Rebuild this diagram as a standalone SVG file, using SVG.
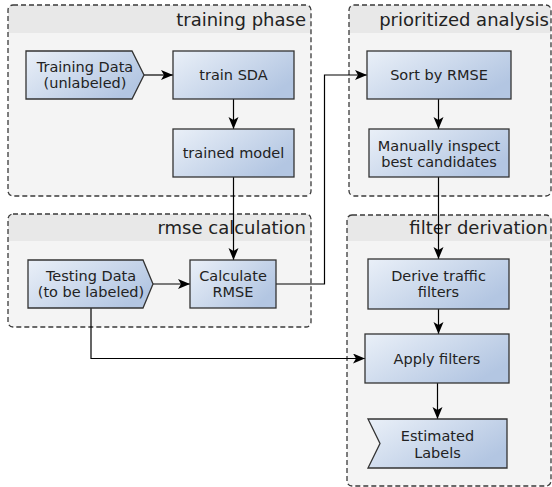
<svg xmlns="http://www.w3.org/2000/svg" width="552" height="487" viewBox="0 0 552 487">
<defs>
<linearGradient id="g" x1="0" y1="0" x2="1" y2="0.6">
<stop offset="0" stop-color="#eaf0f8"/>
<stop offset="1" stop-color="#b3c6e2"/>
</linearGradient>
<marker id="ah" markerUnits="userSpaceOnUse" markerWidth="13" markerHeight="11" refX="12" refY="5" orient="auto" viewBox="0 0 13 11">
<path d="M0,0 L12,5 L0,10 L3,5 z" fill="#000"/>
</marker>
</defs>
<style>
.cb{fill:#f4f4f4;stroke:none}
.ch{fill:#e8e8e8;stroke:none}
.co{fill:none;stroke:#3a3a3a;stroke-width:1.3;stroke-dasharray:5,3}
.ct{font-family:"DejaVu Sans",sans-serif;font-size:18px;fill:#222;text-anchor:end}
.n{fill:url(#g);stroke:#333;stroke-width:1.3}
.t{font-family:"DejaVu Sans",sans-serif;font-size:14.5px;fill:#222;text-anchor:middle}
.e{fill:none;stroke:#000;stroke-width:1.2;marker-end:url(#ah)}
</style>

<g id="cluster-training">
<rect class="cb" x="8" y="5" width="303" height="191" rx="5"/>
<path class="ch" d="M8,33 V10 a5,5 0 0 1 5,-5 H306 a5,5 0 0 1 5,5 V33 z"/>
<rect class="co" x="8" y="5" width="303" height="191" rx="5"/>
<text class="ct" x="306" y="26">training phase</text>
</g>
<g id="cluster-prioritized">
<rect class="cb" x="349" y="5" width="202" height="191" rx="5"/>
<path class="ch" d="M349,33 V10 a5,5 0 0 1 5,-5 H546 a5,5 0 0 1 5,5 V33 z"/>
<rect class="co" x="349" y="5" width="202" height="191" rx="5"/>
<text class="ct" x="549" y="26">prioritized analysis</text>
</g>
<g id="cluster-rmse">
<rect class="cb" x="8" y="214" width="303" height="113" rx="5"/>
<path class="ch" d="M8,241 V219 a5,5 0 0 1 5,-5 H306 a5,5 0 0 1 5,5 V241 z"/>
<rect class="co" x="8" y="214" width="303" height="113" rx="5"/>
<text class="ct" x="306" y="234">rmse calculation</text>
</g>
<g id="cluster-filter">
<rect class="cb" x="347" y="215" width="204" height="271" rx="5"/>
<path class="ch" d="M347,241 V220 a5,5 0 0 1 5,-5 H546 a5,5 0 0 1 5,5 V241 z"/>
<rect class="co" x="347" y="215" width="204" height="271" rx="5"/>
<text class="ct" x="548" y="234">filter derivation</text>
</g>

<g id="connectors">
<path class="e" d="M144,75 H173"/>
<path class="e" d="M233.5,99 V129"/>
<path class="e" d="M233.5,177 V260"/>
<path class="e" d="M153,284 H190"/>
<path class="e" d="M276,284 H324.5 V75 H367"/>
<path class="e" d="M438.5,99 V129"/>
<path class="e" d="M438.5,177 V259"/>
<path class="e" d="M438.5,309 V334"/>
<path class="e" d="M91,308 V358.5 H365"/>
<path class="e" d="M437.5,383 V419"/>
</g>

<g id="node-training-data">
<polygon class="n" points="26,51 132,51 144,75 132,99 26,99"/>
<text class="t" x="85" y="72">Training Data</text>
<text class="t" x="85" y="88">(unlabeled)</text>
</g>
<g id="node-train-sda">
<rect class="n" x="173" y="51" width="121" height="48"/>
<text class="t" x="233.5" y="80">train SDA</text>
</g>
<g id="node-trained-model">
<rect class="n" x="173" y="129" width="121" height="48"/>
<text class="t" x="233.5" y="158">trained model</text>
</g>
<g id="node-testing-data">
<polygon class="n" points="28,260 143,260 153,284 143,308 28,308"/>
<text class="t" x="91" y="281">Testing Data</text>
<text class="t" x="91" y="297">(to be labeled)</text>
</g>
<g id="node-calculate-rmse">
<rect class="n" x="190" y="260" width="86" height="48"/>
<text class="t" x="233" y="281">Calculate</text>
<text class="t" x="233" y="297">RMSE</text>
</g>
<g id="node-sort">
<rect class="n" x="367" y="51" width="144" height="48"/>
<text class="t" x="439" y="80">Sort by RMSE</text>
</g>
<g id="node-inspect">
<rect class="n" x="369" y="129" width="140" height="48"/>
<text class="t" x="439" y="151">Manually inspect</text>
<text class="t" x="439" y="167">best candidates</text>
</g>
<g id="node-derive">
<rect class="n" x="368" y="259" width="141" height="50"/>
<text class="t" x="438.5" y="281">Derive traffic</text>
<text class="t" x="438.5" y="297">filters</text>
</g>
<g id="node-apply">
<rect class="n" x="365" y="334" width="144" height="49"/>
<text class="t" x="437" y="363.5">Apply filters</text>
</g>
<g id="node-estimated">
<polygon class="n" points="368,419 507,419 507,468 368,468 380,443.5"/>
<text class="t" x="437.5" y="441">Estimated</text>
<text class="t" x="437.5" y="457.5">Labels</text>
</g>
</svg>
